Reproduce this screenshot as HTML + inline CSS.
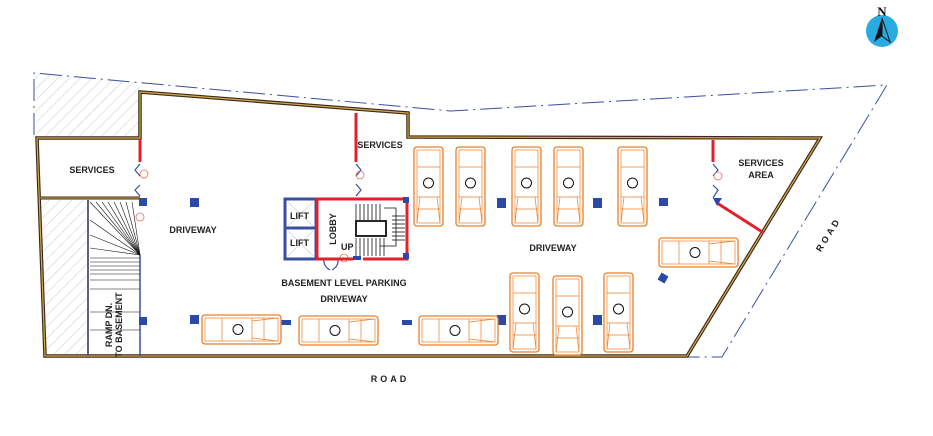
<!DOCTYPE html>
<html><head><meta charset="utf-8"><style>
html,body{margin:0;padding:0;background:#fff;}
svg{display:block;font-family:"Liberation Sans",Arial,sans-serif;}
.t{font-size:9px;font-weight:bold;fill:#222;}
</style></head><body>
<svg width="933" height="436" viewBox="0 0 933 436" xmlns="http://www.w3.org/2000/svg">
<defs>
<pattern id="h" width="8" height="8" patternUnits="userSpaceOnUse" patternTransform="rotate(45)">
<line x1="0" y1="0" x2="0" y2="8" stroke="#bbb" stroke-width="0.8"/></pattern>
<g id="car">
<rect x="0" y="0" width="29" height="79" rx="3" fill="#fff" stroke="#e8802a" stroke-width="1.3"/>
<rect x="3" y="3" width="23" height="73" fill="none" stroke="#e8802a" stroke-width="0.7"/>
<line x1="3" y1="20" x2="26" y2="20" stroke="#e8802a" stroke-width="0.7"/>
<line x1="3" y1="50" x2="26" y2="50" stroke="#e8802a" stroke-width="0.7"/>
<line x1="3" y1="62" x2="26" y2="62" stroke="#e8802a" stroke-width="0.7"/>
<line x1="6" y1="50" x2="3" y2="76" stroke="#e8802a" stroke-width="0.7"/>
<line x1="23" y1="50" x2="26" y2="76" stroke="#e8802a" stroke-width="0.7"/>
<circle cx="14.5" cy="36" r="5" fill="#fff" stroke="#111" stroke-width="1"/>
</g>
</defs>
<!-- hatches -->
<polygon points="34,73 140,82 140,138 37,138" fill="url(#h)"/>
<polygon points="40,200 88,200 88,356 45,356" fill="url(#h)"/>
<!-- dashed site boundary -->
<polyline points="34,135 34,73 451,111 887,85 722,357 687,357" fill="none" stroke="#3a4fa0" stroke-width="1" stroke-dasharray="22,5,2,5"/>
<!-- building walls -->
<polygon points="140,92 408,113 408,137 820,138 687,356 45,356 37,138 140,138" fill="none" stroke="#3a2a1a" stroke-width="3.5"/>
<polygon points="140,92 408,113 408,137 820,138 687,356 45,356 37,138 140,138" fill="none" stroke="#d9a84a" stroke-width="1.2"/>
<line x1="40" y1="198" x2="140" y2="198" stroke="#3a2a1a" stroke-width="3"/>
<line x1="40" y1="198" x2="140" y2="198" stroke="#d9a84a" stroke-width="1"/>
<line x1="88" y1="200" x2="88" y2="356" stroke="#6a5a8a" stroke-width="2"/>
<line x1="140" y1="255" x2="140" y2="356" stroke="#3a4fa0" stroke-width="1.5"/>
<!-- ramp -->
<g stroke="#111" stroke-width="0.6">
<line x1="90" y1="202" x2="140" y2="255"/><line x1="96" y1="202" x2="140" y2="255"/><line x1="102" y1="202" x2="140" y2="255"/><line x1="108" y1="202" x2="140" y2="255"/><line x1="114" y1="202" x2="140" y2="255"/><line x1="120" y1="202" x2="140" y2="255"/><line x1="126" y1="202" x2="140" y2="255"/><line x1="132" y1="202" x2="140" y2="255"/>
<line x1="90" y1="220" x2="140" y2="255"/><line x1="90" y1="235" x2="140" y2="255"/><line x1="90" y1="248" x2="140" y2="255"/>
<line x1="90" y1="258" x2="140" y2="258"/><line x1="90" y1="262" x2="140" y2="262"/><line x1="90" y1="266" x2="140" y2="266"/><line x1="90" y1="270" x2="140" y2="270"/><line x1="90" y1="274" x2="140" y2="274"/><line x1="90" y1="280" x2="140" y2="280"/><line x1="90" y1="289" x2="140" y2="289"/><line x1="90" y1="312" x2="140" y2="312"/><line x1="90" y1="330" x2="140" y2="330"/>
</g>
<text class="t" font-size="8" transform="translate(112,325) rotate(-90)" text-anchor="middle">RAMP DN.</text>
<text class="t" font-size="8" transform="translate(122,325) rotate(-90)" text-anchor="middle">TO BASEMENT</text>
<!-- red walls and doors -->
<g stroke="#e0202a" stroke-width="3">
<line x1="140" y1="139" x2="140" y2="162"/>
<line x1="356" y1="113" x2="356" y2="162"/>
<line x1="713" y1="140" x2="713" y2="162"/>
<line x1="717" y1="203" x2="764" y2="233"/>
</g>
<g fill="none" stroke="#3a4fa0" stroke-width="1.2">
<polyline points="140,164 135,170 140,176"/><polyline points="140,185 135,190 140,196"/>
<polyline points="356,164 361,170 356,176"/><polyline points="356,184 361,190 356,196"/>
<polyline points="713,164 718,170 713,176"/><polyline points="713,185 718,190 713,198"/>
<path d="M330,270 q-7,-4 -6,-11 M332,270 q7,-4 6,-11"/>
</g>
<g fill="none" stroke="#e87060" stroke-width="0.8">
<circle cx="144" cy="174" r="4"/><circle cx="140" cy="217" r="4"/><circle cx="360" cy="175" r="4"/><circle cx="718" cy="176" r="4"/><circle cx="344" cy="258" r="4"/>
</g>
<!-- lift & lobby -->
<rect x="285" y="199" width="31" height="60" fill="none" stroke="#3a4fa0" stroke-width="3"/>
<line x1="285" y1="228" x2="316" y2="228" stroke="#3a4fa0" stroke-width="3"/>
<g stroke="#ccc" stroke-width="0.6"><line x1="288" y1="202" x2="313" y2="226"/><line x1="313" y1="202" x2="288" y2="226"/><line x1="288" y1="231" x2="313" y2="256"/><line x1="313" y1="231" x2="288" y2="256"/></g>
<rect x="317" y="199" width="90" height="60" fill="none" stroke="#e0202a" stroke-width="3"/>
<rect x="353" y="256" width="10" height="5" fill="#fff"/>
<g stroke="#111" stroke-width="0.8">
<line x1="356" y1="204" x2="356" y2="220"/><line x1="360" y1="204" x2="360" y2="220"/><line x1="364" y1="204" x2="364" y2="220"/><line x1="368" y1="204" x2="368" y2="220"/><line x1="372" y1="204" x2="372" y2="220"/><line x1="376" y1="204" x2="376" y2="220"/><line x1="380" y1="204" x2="380" y2="220"/>
<line x1="356" y1="238" x2="356" y2="256"/><line x1="360" y1="238" x2="360" y2="256"/><line x1="364" y1="238" x2="364" y2="256"/><line x1="368" y1="238" x2="368" y2="256"/><line x1="372" y1="238" x2="372" y2="256"/><line x1="376" y1="238" x2="376" y2="256"/><line x1="380" y1="238" x2="380" y2="256"/><line x1="384" y1="238" x2="384" y2="256"/>
<line x1="392" y1="216" x2="405" y2="216"/><line x1="392" y1="220" x2="405" y2="220"/><line x1="392" y1="224" x2="405" y2="224"/><line x1="392" y1="228" x2="405" y2="228"/><line x1="392" y1="232" x2="405" y2="232"/><line x1="392" y1="236" x2="405" y2="236"/><line x1="392" y1="240" x2="405" y2="240"/>
<polyline points="384,208 396,208 396,246 380,246" fill="none"/>
</g>
<rect x="356" y="221" width="30" height="15" fill="none" stroke="#111" stroke-width="1.8"/>
<g fill="#2b4aa8">
<rect x="403" y="197" width="6" height="6"/><rect x="403" y="253" width="6" height="6"/><rect x="353" y="256" width="8" height="4"/>
</g>
<text class="t" x="290" y="219" font-size="8.5">LIFT</text>
<text class="t" x="290" y="246" font-size="8.5">LIFT</text>
<text class="t" font-size="9" transform="translate(336,229) rotate(-90)" text-anchor="middle">LOBBY</text>
<text class="t" x="341" y="250" font-size="8.5">UP</text>
<!-- columns -->
<g fill="#2b4aa8">
<rect x="139" y="198" width="8" height="8"/><rect x="190" y="198" width="9" height="9"/>
<rect x="139" y="317" width="8" height="8"/><rect x="190" y="315" width="9" height="9"/>
<rect x="281" y="320" width="10" height="5"/><rect x="402" y="320" width="10" height="5"/>
<rect x="497" y="198" width="9" height="10"/><rect x="593" y="198" width="9" height="10"/><rect x="659" y="198" width="9" height="8"/>
<rect x="497" y="315" width="9" height="10"/><rect x="593" y="315" width="9" height="10"/>
<rect x="659" y="274" width="8" height="8" transform="rotate(30 663 278)"/>
<polygon points="713,198 722,198 717,206"/>
</g>
<!-- cars -->
<use href="#car" x="414" y="147"/>
<use href="#car" x="456" y="147"/>
<use href="#car" x="512" y="147"/>
<use href="#car" x="554" y="147"/>
<use href="#car" x="618" y="147"/>
<use href="#car" x="510" y="273"/>
<use href="#car" x="553" y="276"/>
<use href="#car" x="604" y="273"/>
<use href="#car" transform="translate(202,344) rotate(-90)"/>
<use href="#car" transform="translate(299,345) rotate(-90)"/>
<use href="#car" transform="translate(419,345) rotate(-90)"/>
<use href="#car" transform="translate(659,267) rotate(-90)"/>
<!-- labels -->
<text class="t" x="92" y="173" text-anchor="middle" font-size="9">SERVICES</text>
<text class="t" x="380" y="148" text-anchor="middle" font-size="8.5">SERVICES</text>
<text class="t" x="193" y="233" text-anchor="middle" font-size="9">DRIVEWAY</text>
<text class="t" x="344" y="286" text-anchor="middle" font-size="10">BASEMENT LEVEL PARKING</text>
<text class="t" x="344" y="302" text-anchor="middle" font-size="10">DRIVEWAY</text>
<text class="t" x="553" y="251" text-anchor="middle" font-size="9">DRIVEWAY</text>
<text class="t" x="761" y="166" text-anchor="middle" font-size="8.5">SERVICES</text>
<text class="t" x="761" y="178" text-anchor="middle" font-size="8.5">AREA</text>
<text class="t" x="390" y="382" text-anchor="middle" font-size="10" letter-spacing="3">ROAD</text>
<text class="t" font-size="9" letter-spacing="3" transform="translate(831,236) rotate(-58)" text-anchor="middle">ROAD</text>
<!-- compass -->
<circle cx="882" cy="31" r="16" fill="#29abe2"/>
<polygon points="882,18 874,42 882,36" fill="#111"/>
<polygon points="882,18 890,42 882,36" fill="none" stroke="#111" stroke-width="1"/>
<text x="882" y="16" text-anchor="middle" font-family="Liberation Serif,serif" font-weight="bold" font-size="13" fill="#111">N</text>
</svg>
</body></html>
